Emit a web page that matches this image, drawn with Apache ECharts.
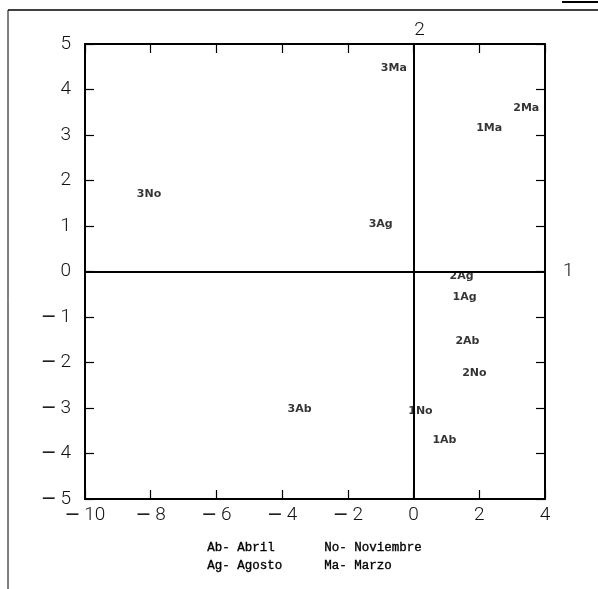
<!DOCTYPE html>
<html><head><meta charset="utf-8">
<script src="https://cdn.jsdelivr.net/npm/echarts@6/dist/echarts.min.js"></script>
<style>html,body{margin:0;padding:0;background:#fff}#c{width:598px;height:589px}</style>
</head><body><div id="c"></div>
<script>
const names = ['3Ma','2Ma','1Ma','3No','3Ag','2Ag','1Ag','2Ab','2No','3Ab','1No','1Ab'];
const xs = [-0.6, 3.43, 2.3, -8.05, -1.0, 1.46, 1.55, 1.64, 1.85, -3.47, 0.21, 0.94];
const ys = [4.46, 3.6, 3.16, 1.71, 1.03, -0.11, -0.57, -1.54, -2.24, -3.03, -3.08, -3.71];
const xMin = -10, xMax = 4, xStep = 2;
const yMin = -5, yMax = 5, yStep = 1;
const axisNameX = '1', axisNameY = '2';
const legendLines = [['Ab- Abril','No- Noviembre'],['Ag- Agosto','Ma- Marzo']];

const fmt = v => v < 0 ? '{m|\u2212\u2009}{d|' + Math.abs(v) + '}' : '{d|' + v + '}';
const rich = {
  m:{fontFamily:'DejaVu Sans', fontSize:19, fontWeight:'normal', color:'#111'},
  d:{fontFamily:'Roboto', fontWeight:300, fontSize:19, color:'#111'}
};
const tickFont = {fontFamily:'Roboto', fontWeight:300, fontSize:19, color:'#111', rich:rich};
const axLine = {show:true, onZero:false, lineStyle:{color:'#000', width:2}};
const tick = {show:true, inside:true, length:9, lineStyle:{color:'#000', width:1.2}};
const legFont = '12.5px "Liberation Mono"';
const legStyle = t => ({text:t, font:legFont, fill:'#000', stroke:'#000', lineWidth:0.35});

const chart = echarts.init(document.getElementById('c'), null, {renderer:'canvas'});
chart.setOption({
  animation:false,
  backgroundColor:'#fff',
  grid:{left:85, right:53, top:44, bottom:90},
  xAxis:[
    {type:'value', min:xMin, max:xMax, interval:xStep, position:'bottom',
     axisLine:axLine, axisTick:tick, splitLine:{show:false},
     axisLabel:Object.assign({formatter:fmt, margin:7}, tickFont)},
    {type:'value', min:xMin, max:xMax, interval:xStep, position:'top',
     axisLine:axLine, axisTick:tick, splitLine:{show:false}, axisLabel:{show:false}}
  ],
  yAxis:[
    {type:'value', min:yMin, max:yMax, interval:yStep, position:'left',
     axisLine:axLine, axisTick:tick, splitLine:{show:false},
     axisLabel:Object.assign({formatter:fmt, margin:14}, tickFont)},
    {type:'value', min:yMin, max:yMax, interval:yStep, position:'right',
     axisLine:axLine, axisTick:tick, splitLine:{show:false}, axisLabel:{show:false}}
  ],
  series:[{
    type:'scatter', xAxisIndex:0, yAxisIndex:0,
    symbolSize:0,
    data: names.map((n,i)=>({name:n, value:[xs[i], ys[i]]})),
    label:{show:true, position:'inside', formatter:'{b}', color:'#000',
      fontFamily:'DejaVu Sans', fontSize:11, fontWeight:'bold'},
    markLine:{
      silent:true, symbol:'none', animation:false,
      lineStyle:{color:'#000', width:2, type:'solid'},
      data:[
        {xAxis:0, label:{show:true, position:'end', formatter:axisNameY, distance:4,
          padding:[0,0,0,12],
          fontFamily:'Roboto', fontWeight:300, fontSize:19, color:'#111'}},
        {yAxis:0, label:{show:true, position:'end', formatter:axisNameX, distance:18,
          fontFamily:'Roboto', fontWeight:300, fontSize:19, color:'#111'}}
      ]
    }
  }],
  graphic:[
    {type:'line', shape:{x1:8, y1:10, x2:598, y2:10}, style:{stroke:'#000', lineWidth:1.5}},
    {type:'line', shape:{x1:8, y1:10, x2:8, y2:589}, style:{stroke:'#000', lineWidth:1}},
    {type:'line', shape:{x1:562, y1:2, x2:598, y2:2}, style:{stroke:'#000', lineWidth:2}},
    {type:'text', left:207, top:541, style:legStyle(legendLines[0][0])},
    {type:'text', left:324, top:541, style:legStyle(legendLines[0][1])},
    {type:'text', left:207, top:559, style:legStyle(legendLines[1][0])},
    {type:'text', left:324, top:559, style:legStyle(legendLines[1][1])}
  ]
});
</script></body></html>
